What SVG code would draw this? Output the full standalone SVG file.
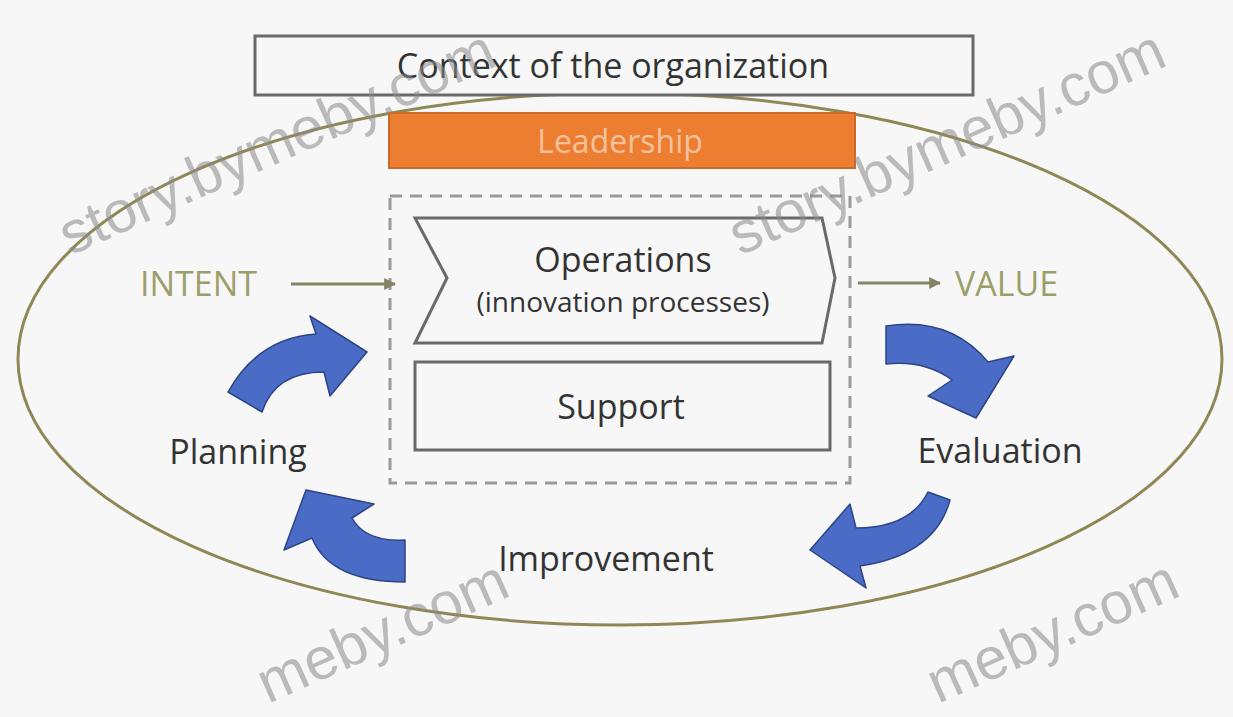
<svg xmlns="http://www.w3.org/2000/svg" width="1233" height="717" viewBox="0 0 1233 717">
  <defs>
    <style>
      .lbl { font-family: "Open Sans", "Liberation Sans", sans-serif; fill: #333333; text-anchor: middle; font-size: 34px; }
      .box { fill: #f7f7f7; stroke: #6a6a6a; stroke-width: 3; }
      .io { font-family: "Open Sans", "Liberation Sans", sans-serif; fill: #9c9f6c; font-size: 34px; }
      .flow { stroke: #858566; stroke-width: 3; fill: none; marker-end: url(#ah); }
      .blue { fill: #4a6bc6; stroke: #2d4585; stroke-width: 1.5; stroke-linejoin: round; }
      .wm { font-family: "Liberation Sans", Arial, sans-serif; font-size: 59px; fill: #8a8a8a; opacity: 0.55; }
    </style>
    <marker id="ah" viewBox="0 0 10 10" refX="9" refY="5" markerWidth="4" markerHeight="4" orient="auto" markerUnits="strokeWidth">
      <path d="M0,0 L10,5 L0,10 z" fill="#858566"/>
    </marker>
  </defs>
  <rect x="0" y="0" width="1233" height="717" fill="#f7f7f7"/>

  <g id="scope">
    <ellipse cx="620" cy="359" rx="602" ry="266" fill="none" stroke="#8f8856" stroke-width="3"/>
  </g>

  <g id="context">
    <rect class="box" x="255" y="36" width="718" height="59"/>
    <text class="lbl" x="613" y="78">Context of the organization</text>
  </g>

  <g id="leadership">
    <rect x="389" y="113" width="466" height="55" fill="#ed7d31" stroke="#c96a28" stroke-width="2"/>
    <text class="lbl" x="620" y="153" style="fill:#f3c29c;font-size:32px">Leadership</text>
  </g>

  <g id="system">
    <rect x="390" y="196" width="460" height="287" fill="none" stroke="#9a9a9a" stroke-width="3" stroke-dasharray="12,8"/>
  </g>

  <g id="operations">
    <path class="box" d="M415,218 L822,218 L835,278 L822,343 L415,343 L447,278 Z"/>
    <text class="lbl" x="623" y="272">Operations</text>
    <text class="lbl" x="623" y="312" style="font-size:28px">(innovation processes)</text>
  </g>

  <g id="support">
    <rect class="box" x="415" y="362" width="415" height="88"/>
    <text class="lbl" x="621" y="419">Support</text>
  </g>

  <g id="intent">
    <text class="io" x="140" y="296">INTENT</text>
  </g>
  <g id="value">
    <text class="io" x="955" y="296">VALUE</text>
  </g>

  <g id="planning">
    <text class="lbl" x="238" y="464">Planning</text>
  </g>
  <g id="evaluation">
    <text class="lbl" x="1000" y="463">Evaluation</text>
  </g>
  <g id="improvement">
    <text class="lbl" x="606" y="571">Improvement</text>
  </g>

  <g id="connectors">
    <line class="flow" x1="291" y1="284" x2="395" y2="284"/>
    <line class="flow" x1="858" y1="283" x2="940" y2="283"/>
    <path class="blue" d="M228,392 Q258,338 316,334 L310,316 L367,352 L330,396 L324,372 Q275,372 262,412 Z"/>
    <path class="blue" d="M886,326 Q950,316 988,362 L1014,356 L976,418 L928,396 L952,380 Q925,360 886,364 Z"/>
    <path class="blue" d="M928,492 L950,500 Q935,555 860,566 L866,588 L810,550 L850,504 L856,528 Q910,528 928,492 Z"/>
    <path class="blue" d="M405,540 Q365,542 352,518 L374,504 L306,490 L284,550 L312,538 Q330,582 405,582 Z"/>
  </g>

  <g id="watermarks">
    <text class="wm" transform="translate(70,256) rotate(-24)">story.bymeby.com</text>
    <text class="wm" transform="translate(740,256) rotate(-24)">story.bymeby.com</text>
    <text class="wm" transform="translate(268,704) rotate(-24)">meby.com</text>
    <text class="wm" transform="translate(938,704) rotate(-24)">meby.com</text>
  </g>
</svg>
